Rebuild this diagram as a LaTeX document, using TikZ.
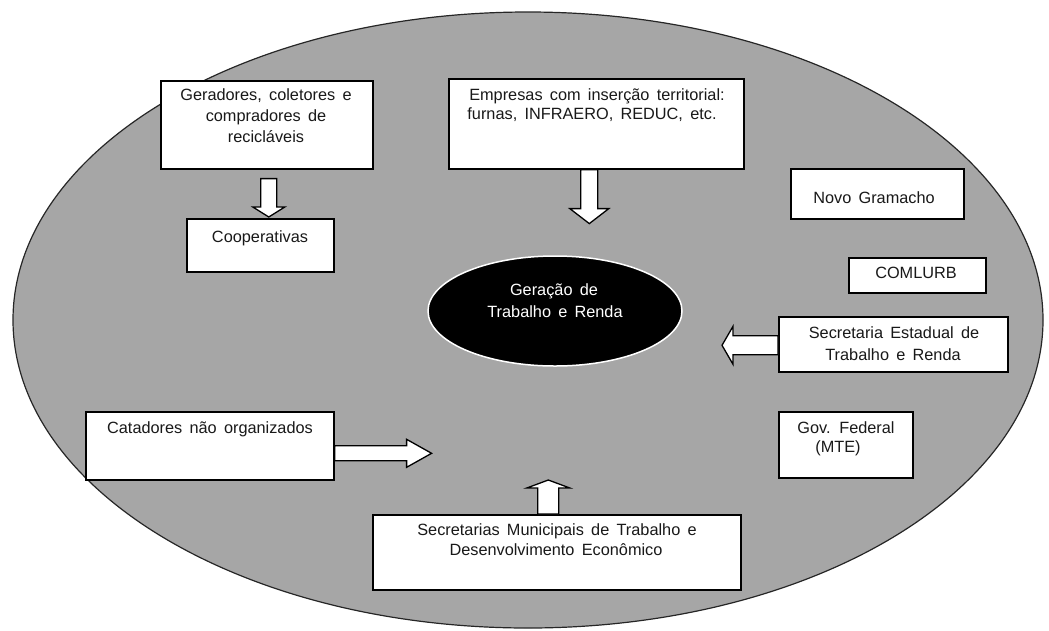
\documentclass[tikz,border=0pt]{standalone}
\usepackage{fontspec}
\setmainfont[WordSpace=1.6]{Liberation Sans}
\usetikzlibrary{shapes.geometric,calc}
\definecolor{fieldgray}{RGB}{166,166,166}
\definecolor{inkc}{RGB}{25,25,25}
\newcommand\downarr[5]{\draw[barrow] ($(#1)+(-#3,0)$) -- ($(#2)+(-#3,-#5)$) -- ($(#2)+(-#4,-#5)$) -- (#2) -- ($(#2)+(#4,-#5)$) -- ($(#2)+(#3,-#5)$) -- ($(#1)+(#3,0)$) -- cycle;}
\newcommand\uparr[5]{\draw[barrow] ($(#1)+(-#3,0)$) -- ($(#2)+(-#3,#5)$) -- ($(#2)+(-#4,#5)$) -- (#2) -- ($(#2)+(#4,#5)$) -- ($(#2)+(#3,#5)$) -- ($(#1)+(#3,0)$) -- cycle;}
\newcommand\leftarr[5]{\draw[barrow] ($(#1)+(0,-#3)$) -- ($(#2)+(#5,-#3)$) -- ($(#2)+(#5,-#4)$) -- (#2) -- ($(#2)+(#5,#4)$) -- ($(#2)+(#5,#3)$) -- ($(#1)+(0,#3)$) -- cycle;}
\newcommand\rightarr[5]{\draw[barrow] ($(#1)+(0,-#3)$) -- ($(#2)+(-#5,-#3)$) -- ($(#2)+(-#5,-#4)$) -- (#2) -- ($(#2)+(-#5,#4)$) -- ($(#2)+(-#5,#3)$) -- ($(#1)+(0,#3)$) -- cycle;}
\begin{document}
\begin{tikzpicture}[x=1pt,y=-1pt,
  box/.style={draw=black, line width=1.6pt, fill=white, inner sep=0pt, anchor=north west},
  txt/.style={anchor=base, inner sep=0pt, font=\fontsize{16.3}{19}\selectfont, text=inkc},
  wtxt/.style={txt, text=white},
  barrow/.style={draw=black, line width=1.3pt, fill=white, line join=miter}]
\useasboundingbox (0,0) rectangle (1049,630);
\node[ellipse, draw=black!85, line width=1.2pt, fill=fieldgray, minimum width=1030, minimum height=616, inner sep=0pt] (field) at (528,320) {};
% boxes
\node[box, minimum width=212, minimum height=88] (ger) at (160,80) {};
\node[box, minimum width=147, minimum height=53] (coop) at (186,218) {};
\node[box, minimum width=295, minimum height=90] (emp) at (448,78) {};
\node[box, minimum width=173, minimum height=50] (novo) at (790,168) {};
\node[box, minimum width=137, minimum height=35] (com) at (848,257) {};
\node[box, minimum width=229, minimum height=55] (sec) at (778,316) {};
\node[box, minimum width=134, minimum height=66] (gov) at (778,411) {};
\node[box, minimum width=248, minimum height=68] (cat) at (85,411) {};
\node[box, minimum width=368, minimum height=75] (mun) at (372,514) {};
% centre
\node[ellipse, fill=black, draw=white, line width=1.5pt, minimum width=254, minimum height=110, inner sep=0pt] (core) at (555,311) {};
% arrows
\coordinate (a1s) at ($(ger.south)+(2,9)$);
\coordinate (a1e) at ($(coop.north)+(8.5,-1)$);
\downarr{a1s}{a1e}{8}{16}{10}
\coordinate (a2s) at ($(emp.south)+(-7,0)$);
\coordinate (a2e) at ($(emp.south)+(-7,54)$);
\downarr{a2s}{a2e}{8.5}{19.5}{15}
\coordinate (a3s) at ($(sec.west)+(0,1)$);
\coordinate (a3e) at ($(sec.west)+(-56,1)$);
\leftarr{a3s}{a3e}{9.5}{19}{11}
\coordinate (a4s) at ($(cat.east)+(0,7.5)$);
\coordinate (a4e) at ($(cat.east)+(97,7.5)$);
\rightarr{a4s}{a4e}{7.5}{14}{25}
\coordinate (a5s) at ($(mun.north)+(-8.5,0)$);
\coordinate (a5e) at ($(mun.north)+(-8.5,-34)$);
\uparr{a5s}{a5e}{10.5}{21.5}{8}
% texts
\node[txt] (g1) at (266,100) {Geradores, coletores e};
\node[txt] (g2) at (266,121) {compradores de};
\node[txt] (g3) at (266,142) {recicláveis};
\node[txt] (c1) at (260,242) {Cooperativas};
\node[txt] (e1) at (597,100) {Empresas com inserção territorial:};
\node[txt] (e2) at (592,119) {furnas, INFRAERO, REDUC, etc.};
\node[wtxt] (k1) at (554,295) {Geração de};
\node[wtxt] (k2) at (555,317) {Trabalho e Renda};
\node[txt] (n1) at (874,203) {Novo Gramacho};
\node[txt] (m1) at (916,278) {COMLURB};
\node[txt] (s1) at (894,338) {Secretaria Estadual de};
\node[txt] (s2) at (893,360) {Trabalho e Renda};
\node[txt] (f1) at (846,433) {Gov. Federal};
\node[txt] (f2) at (838,452) {(MTE)};
\node[txt] (d1) at (210,433) {Catadores não organizados};
\node[txt] (u1) at (557,535) {Secretarias Municipais de Trabalho e};
\node[txt] (u2) at (556,555) {Desenvolvimento Econômico};
\end{tikzpicture}
\end{document}
